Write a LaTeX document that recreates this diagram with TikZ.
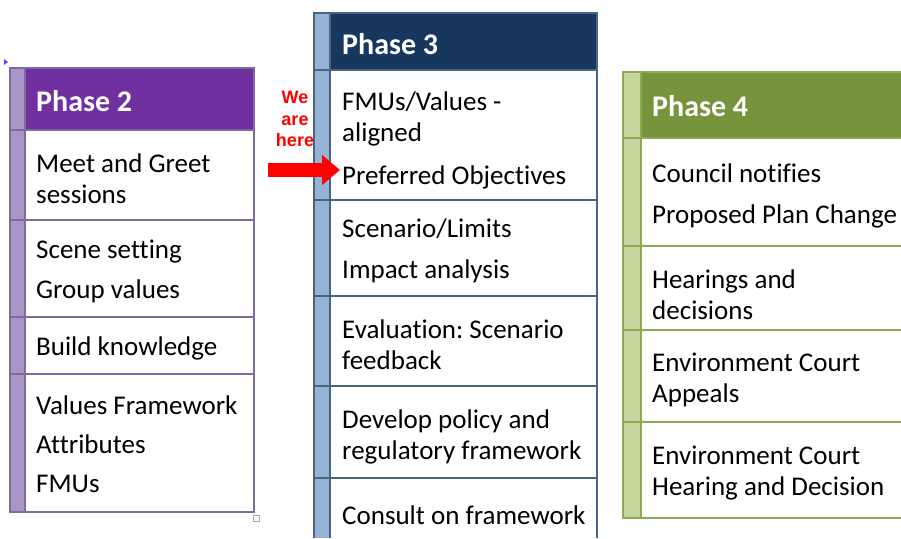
\documentclass[tikz,border=0pt]{standalone}
\usepackage{fontspec}
\setmainfont{Carlito}[Ligatures=NoCommon]
\newfontfamily\arialfont{Liberation Sans}
\usetikzlibrary{arrows.meta}
\frenchspacing

\definecolor{ptwohead}{HTML}{7030A0}
\definecolor{ptwostrip}{HTML}{A995C6}
\definecolor{ptwoline}{HTML}{7F6A9F}
\definecolor{pthreehead}{HTML}{17375E}
\definecolor{pthreestrip}{HTML}{95B3D7}
\definecolor{pthreeline}{HTML}{4A6485}
\definecolor{pfourhead}{HTML}{77933C}
\definecolor{pfourstrip}{HTML}{C3D69B}
\definecolor{pfourline}{HTML}{8EAA50}

\begin{document}
\begin{tikzpicture}[x=1pt,y=-1pt,
		cell/.style={anchor=west, align=left, inner sep=0pt, font=\fontsize{27}{31}\selectfont},
		phasehead/.style={anchor=west, inner sep=0pt, text=white, font=\fontsize{30}{34}\selectfont\bfseries},
		herelabel/.style={align=center, inner sep=0pt, text=red, font=\arialfont\fontsize{18}{21.5}\selectfont\bfseries}]
	\useasboundingbox (0,0) rectangle (901,538);

	% phase 2
	\fill[ptwostrip] (10,68) rectangle (25,512);
	\fill[ptwohead] (25,68) rectangle (254,130);
	\draw[ptwoline, line width=1.5pt] (10,68) rectangle (254,512);
	\draw[ptwoline, line width=1.2pt] (25,68) -- (25,512);
	\foreach \y in {130,220,317,374}
		\draw[ptwoline, line width=1.2pt] (10,\y) -- (254,\y);
	\draw[gray!70, line width=1pt] (253,515) rectangle (259,521);
	\fill[blue!70] (4,59) -- (8,62) -- (4,65) -- cycle;

	\node[phasehead] (ptwo) at (36,101) {Phase 2};
	\node[cell] (meet) at (36,178.5) {Meet and Greet\\sessions};
	\node[cell] (scene) at (36,271) {Scene setting\\[9pt]Group values};
	\node[cell] (build) at (36,348) {Build knowledge};
	\node[cell] (frame) at (36,444) {Values Framework\\[8pt]Attributes\\[8pt]FMUs};

	% phase 3
	\fill[pthreestrip] (314,13) rectangle (330,538);
	\fill[pthreehead] (330,13) rectangle (597,70);
	\draw[pthreeline, line width=1.5pt] (314,538) -- (314,13) -- (597,13) -- (597,538);
	\draw[pthreeline, line width=1.2pt] (330,13) -- (330,538);
	\foreach \y in {70,200,296,386,478}
		\draw[pthreeline, line width=1.2pt] (314,\y) -- (597,\y);

	\node[phasehead] (pthree) at (342,44) {Phase 3};
	\node[cell] (fmus) at (342,140) {FMUs/Values -\\aligned\\[12pt]Preferred Objectives};
	\node[cell] (limits) at (342,250.5) {Scenario/Limits\\[10pt]Impact analysis};
	\node[cell] (evalu) at (342,344.5) {Evaluation: Scenario\\feedback};
	\node[cell] (policy) at (342,436.5) {Develop policy and\\regulatory framework};
	\node[cell] (consult) at (342,515) {Consult on framework};

	% phase 4
	\fill[pfourstrip] (623,72) rectangle (641,518);
	\fill[pfourhead] (641,72) rectangle (901,138);
	\draw[pfourline, line width=1.5pt] (901,72) -- (623,72) -- (623,518) -- (901,518);
	\draw[pfourline, line width=1.2pt] (641,72) -- (641,518);
	\foreach \y in {138,246,330,422}
		\draw[pfourline, line width=1.2pt] (623,\y) -- (901,\y);

	\node[phasehead] (pfour) at (652,106) {Phase 4};
	\node[cell] (notify) at (652,195.5) {Council notifies\\[10pt]Proposed Plan Change};
	\node[cell] (hear) at (652,294.5) {Hearings and\\decisions};
	\node[cell] (appeal) at (652,379.5) {Environment Court\\Appeals};
	\node[cell] (decide) at (652,473) {Environment Court\\Hearing and Decision};

	% marker
	\node[herelabel] (here) at (295,119) {We\\are\\here};
	\coordinate (tail) at (268,170);
	\coordinate (tip) at (340,170);
	\draw[red, line width=14pt, -{Triangle[width=29pt,length=18pt]}] (tail) -- (tip);
\end{tikzpicture}
\end{document}
